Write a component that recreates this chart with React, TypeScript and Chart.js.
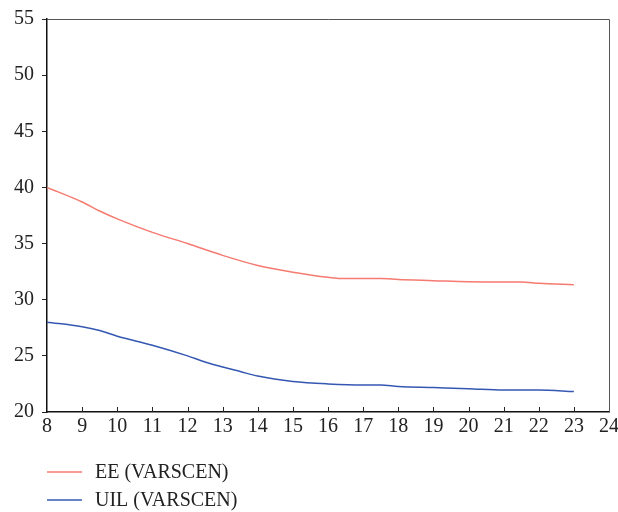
import React, { useEffect, useRef } from "react";
import { Chart, registerables } from "chart.js";

Chart.register(...registerables);

const eeX = [8, 9, 9.5, 10, 11, 12, 13, 14, 15, 16, 16.5, 17.5, 18, 19, 20, 21, 21.5, 22, 23];
const eeY = [40.0, 38.7, 37.9, 37.2, 36.0, 35.0, 33.95, 33.05, 32.45, 32.0, 31.88, 31.88, 31.8, 31.7, 31.6, 31.58, 31.58, 31.46, 31.34];
const uilX = [8, 9, 9.5, 10, 11, 12, 12.5, 13, 13.5, 14, 15, 16, 17, 17.5, 18, 19, 20, 21, 22, 23];
const uilY = [28.0, 27.6, 27.25, 26.75, 25.95, 25.0, 24.45, 24.0, 23.6, 23.2, 22.72, 22.5, 22.4, 22.4, 22.28, 22.18, 22.08, 21.96, 21.96, 21.82];
const seriesNames = ["EE (VARSCEN)", "UIL (VARSCEN)"];
const seriesColors = ["rgb(246,122,112)", "rgb(52,88,178)"];

const FONT = "'Liberation Serif', 'DejaVu Serif', serif";

const framePlugin = {
  id: "frameAndLegend",
  afterDraw(chart: any) {
    const { ctx, chartArea } = chart;
    const { left, right, top, bottom } = chartArea;
    const xScale = chart.scales.x;
    ctx.save();
    ctx.strokeStyle = "#555";
    ctx.lineWidth = 1;
    ctx.beginPath();
    ctx.moveTo(left, top + 0.5);
    ctx.lineTo(right + 0.5, top + 0.5);
    ctx.lineTo(right + 0.5, bottom);
    ctx.stroke();
    ctx.strokeStyle = "#222";
    ctx.lineWidth = 1;
    for (let v = 9; v <= 23; v++) {
      const px = Math.round(xScale.getPixelForValue(v)) + 0.5;
      ctx.beginPath();
      ctx.moveTo(px, bottom);
      ctx.lineTo(px, bottom - 5);
      ctx.stroke();
    }
    const ys = [bottom + 60, bottom + 88];
    ctx.font = "20px " + FONT;
    ctx.textBaseline = "middle";
    ctx.textAlign = "left";
    seriesNames.forEach((name, i) => {
      ctx.strokeStyle = seriesColors[i];
      ctx.lineWidth = 1.5;
      ctx.beginPath();
      ctx.moveTo(left, ys[i]);
      ctx.lineTo(left + 35, ys[i]);
      ctx.stroke();
      ctx.fillStyle = "#222";
      ctx.fillText(name, left + 48, ys[i] + 1);
    });
    ctx.restore();
  },
};

export default function App() {
  const ref = useRef<HTMLCanvasElement | null>(null);
  useEffect(() => {
    if (!ref.current) return;
    const chart = new Chart(ref.current, {
      type: "line",
      data: {
        datasets: [
          {
            label: seriesNames[0],
            data: eeX.map((x, i) => ({ x, y: eeY[i] })),
            borderColor: seriesColors[0],
            borderWidth: 1.5,
            pointRadius: 0,
            cubicInterpolationMode: "monotone",
            fill: false,
          },
          {
            label: seriesNames[1],
            data: uilX.map((x, i) => ({ x, y: uilY[i] })),
            borderColor: seriesColors[1],
            borderWidth: 1.5,
            pointRadius: 0,
            cubicInterpolationMode: "monotone",
            fill: false,
          },
        ],
      },
      options: {
        animation: false,
        responsive: false,
        maintainAspectRatio: false,
        layout: { padding: { top: 19, right: 9, left: 0, bottom: 0 } },
        plugins: {
          legend: { display: false },
          tooltip: { enabled: false },
        },
        scales: {
          x: {
            type: "linear",
            min: 8,
            max: 24,
            afterFit: (s: any) => {
              s.height = 100;
              s.paddingRight = 0;
              s.paddingLeft = 0;
            },
            ticks: {
              stepSize: 1,
              color: "#222",
              font: { family: FONT, size: 20 },
              padding: 3,
              maxRotation: 0,
            },
            grid: { display: true, drawOnChartArea: false, drawTicks: false },
            border: { display: true, color: "#111", width: 1.5 },
          },
          y: {
            type: "linear",
            min: 20,
            max: 55,
            afterFit: (s: any) => {
              s.width = 47;
              s.paddingTop = 0;
              s.paddingBottom = 0;
            },
            ticks: {
              stepSize: 5,
              color: "#222",
              font: { family: FONT, size: 20 },
              padding: 8,
            },
            grid: {
              display: true,
              drawOnChartArea: false,
              drawTicks: true,
              tickLength: 5,
              color: "#222",
            },
            border: { display: true, color: "#111", width: 1.5 },
          },
        },
      },
      plugins: [framePlugin],
    });
    return () => chart.destroy();
  }, []);
  return (
    <div style={{ position: "absolute", left: 0, top: 0, width: 618, height: 512, background: "#fff" }}>
      <canvas ref={ref} width={618} height={512} style={{ width: 618, height: 512 }} />
    </div>
  );
}
